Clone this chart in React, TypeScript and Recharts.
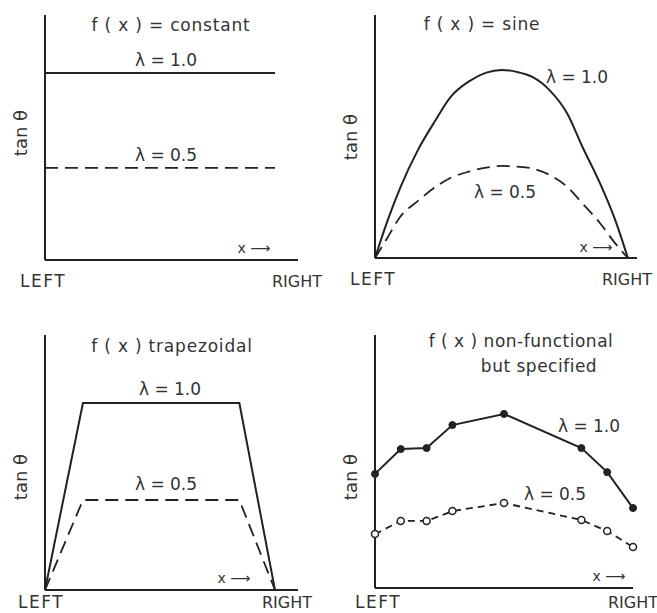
import { LineChart, Line, XAxis, YAxis } from 'recharts';

// panel 1: f(x) = constant
const constX = [0, 1];
const constHigh = [0.763, 0.763];
const constLow = [0.376, 0.376];

// panel 2: f(x) = sine
const sineX = [0, 0.05, 0.1, 0.17, 0.24, 0.3, 0.37, 0.44, 0.5, 0.56, 0.62, 0.69, 0.76, 0.82, 0.89, 0.95, 1];
const sineHigh = [0, 0.155, 0.29, 0.445, 0.568, 0.664, 0.726, 0.763, 0.774, 0.766, 0.746, 0.691, 0.595, 0.458, 0.307, 0.156, 0];
const sineLow = [0, 0.085, 0.17, 0.235, 0.293, 0.33, 0.355, 0.372, 0.379, 0.376, 0.369, 0.342, 0.293, 0.225, 0.143, 0.06, 0];

// panel 3: f(x) trapezoidal
const trapX = [0, 0.165, 0.845, 1];
const trapHigh = [0, 0.733, 0.733, 0];
const trapLow = [0, 0.353, 0.353, 0];

// panel 4: non-functional but specified
const specX = [0, 0.1, 0.2, 0.3, 0.5, 0.8, 0.9, 1];
const specHigh = [0.451, 0.549, 0.553, 0.644, 0.688, 0.553, 0.458, 0.316];
const specLow = [0.213, 0.265, 0.265, 0.304, 0.336, 0.269, 0.225, 0.162];

const INK = '#222';
const FONT = '"DejaVu Sans", "Liberation Sans", sans-serif';

const toRows = (xs: number[], hi: number[], lo: number[]) =>
  xs.map((x, i) => ({ x, hi: hi[i], lo: lo[i] }));

interface PanelProps {
  left: number;
  top: number;
  width: number;
  height: number;
  margin: { top: number; right: number; bottom: number; left: number };
  xMax: number;
  data: { x: number; hi: number; lo: number }[];
  curve?: 'linear' | 'monotone';
  dots?: boolean;
}

// axes take 1px each, so margins are one less than the plot edges
function Panel({ left, top, width, height, margin, xMax, data, curve = 'linear', dots = false }: PanelProps) {
  const m = { ...margin, left: margin.left - 1, bottom: margin.bottom - 1 };
  return (
    <div style={{ position: 'absolute', left, top }}>
      <LineChart width={width} height={height} data={data} margin={m}>
        <XAxis
          type="number"
          dataKey="x"
          domain={[0, xMax]}
          tick={false}
          tickLine={false}
          height={1}
          axisLine={{ stroke: INK, strokeWidth: 2 }}
        />
        <YAxis
          type="number"
          domain={[0, 1]}
          tick={false}
          tickLine={false}
          width={1}
          axisLine={{ stroke: INK, strokeWidth: 2 }}
        />
        <Line
          dataKey="hi"
          type={curve}
          stroke={INK}
          strokeWidth={2}
          dot={dots ? { r: 3.5, fill: INK, stroke: INK, strokeWidth: 1 } : false}
          isAnimationActive={false}
        />
        <Line
          dataKey="lo"
          type={curve}
          stroke={INK}
          strokeWidth={1.8}
          strokeDasharray={dots ? '7 5' : '13 7'}
          dot={dots ? { r: 3.5, fill: '#fff', stroke: INK, strokeWidth: 1.5, strokeDasharray: '0' } : false}
          isAnimationActive={false}
        />
      </LineChart>
    </div>
  );
}

function Txt({ x, y, s, size = 17, anchor = 'middle', spacing = 0 }: { x: number; y: number; s: string; size?: number; anchor?: 'start' | 'middle' | 'end'; spacing?: number }) {
  return (
    <text x={x} y={y} fontSize={size} textAnchor={anchor} fill="#333" fontFamily={FONT} letterSpacing={spacing}>
      {s}
    </text>
  );
}

function YLabel({ x, y }: { x: number; y: number }) {
  return (
    <text x={x} y={y} fontSize={18} textAnchor="middle" fill="#333" fontFamily={FONT} transform={`rotate(-90 ${x} ${y})`}>
      tan θ
    </text>
  );
}

export default function App() {
  return (
    <div style={{ position: 'absolute', left: 0, top: 0, width: 657, height: 613, background: '#fff', overflow: 'hidden' }}>
      <Panel left={0} top={0} width={330} height={300} margin={{ top: 15, right: 32, bottom: 40, left: 45 }} xMax={1.1} data={toRows(constX, constHigh, constLow)} />
      <Panel left={330} top={0} width={327} height={300} margin={{ top: 15, right: 20, bottom: 42, left: 45 }} xMax={1.036} data={toRows(sineX, sineHigh, sineLow)} curve="monotone" />
      <Panel left={0} top={300} width={330} height={313} margin={{ top: 35, right: 32, bottom: 23, left: 45 }} xMax={1.1} data={toRows(trapX, trapHigh, trapLow)} />
      <Panel left={330} top={300} width={327} height={313} margin={{ top: 35, right: 24, bottom: 25, left: 45 }} xMax={1.0} data={toRows(specX, specHigh, specLow)} dots />

      <svg width={657} height={613} style={{ position: 'absolute', left: 0, top: 0, pointerEvents: 'none' }}>
        {/* top left */}
        <Txt x={171} y={31} s="f ( x ) = constant" spacing={0.8} />
        <Txt x={166} y={66} s="λ = 1.0" />
        <Txt x={166} y={161} s="λ = 0.5" />
        <YLabel x={27} y={133} />
        <Txt x={254} y={253} s="x ⟶" size={14} />
        <Txt x={20} y={287} s="LEFT" anchor="start" size={17} spacing={1.5} />
        <Txt x={322} y={287} s="RIGHT" anchor="end" size={16} />

        {/* top right */}
        <Txt x={482} y={30} s="f ( x ) = sine" spacing={0.8} />
        <Txt x={577} y={83} s="λ = 1.0" />
        <Txt x={505} y={198} s="λ = 0.5" />
        <YLabel x={357} y={137} />
        <Txt x={596} y={252} s="x ⟶" size={14} />
        <Txt x={350} y={285} s="LEFT" anchor="start" size={17} spacing={1.5} />
        <Txt x={652} y={285} s="RIGHT" anchor="end" size={16} />

        {/* bottom left */}
        <Txt x={172} y={352} s="f ( x ) trapezoidal" spacing={0.8} />
        <Txt x={170} y={395} s="λ = 1.0" />
        <Txt x={166} y={490} s="λ = 0.5" />
        <YLabel x={27} y={477} />
        <Txt x={234} y={583} s="x ⟶" size={14} />
        <Txt x={18} y={608} s="LEFT" anchor="start" size={17} spacing={1.5} />
        <Txt x={312} y={608} s="RIGHT" anchor="end" size={16} />

        {/* bottom right */}
        <Txt x={521} y={347} s="f ( x ) non-functional" spacing={0.5} />
        <Txt x={539} y={372} s="but specified" spacing={0.5} />
        <Txt x={589} y={432} s="λ = 1.0" />
        <Txt x={555} y={500} s="λ = 0.5" />
        <YLabel x={357} y={477} />
        <Txt x={609} y={581} s="x ⟶" size={14} />
        <Txt x={355} y={608} s="LEFT" anchor="start" size={17} spacing={1.5} />
        <Txt x={608} y={608} s="RIGHT" anchor="start" size={16} />
      </svg>
    </div>
  );
}
